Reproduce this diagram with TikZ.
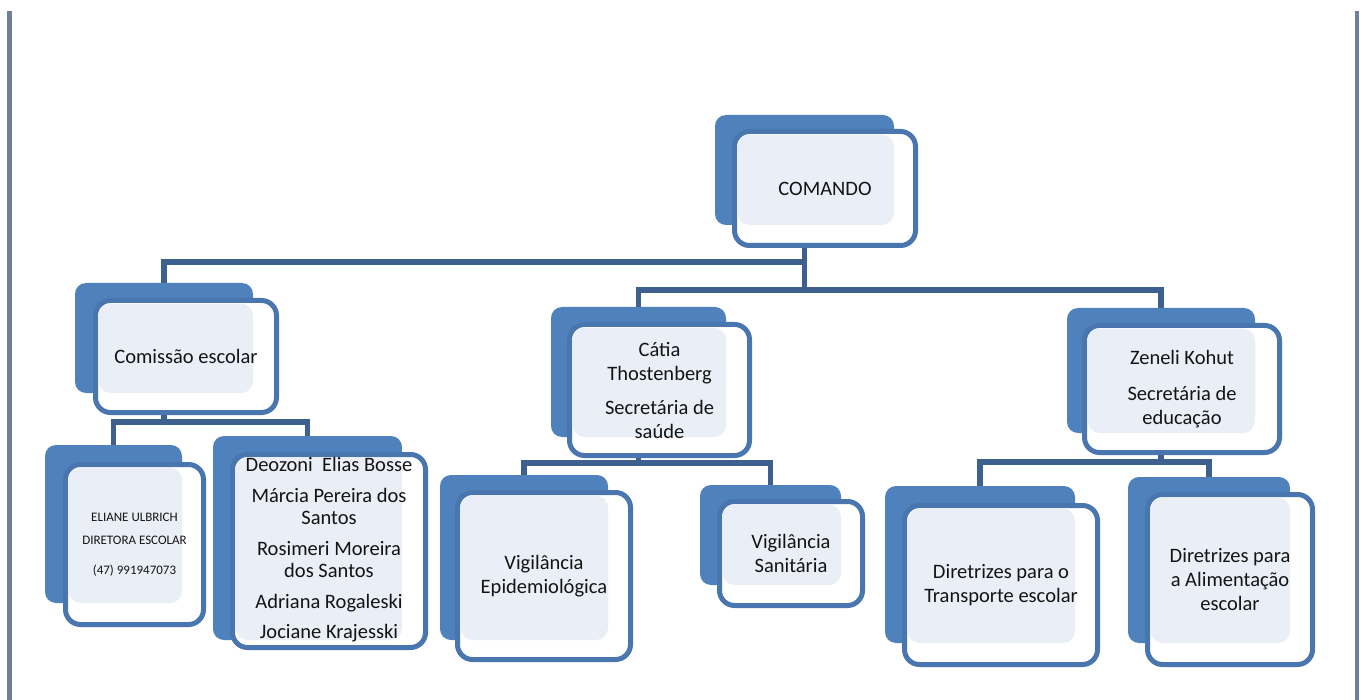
\documentclass[tikz,border=0pt]{standalone}
\usepackage{fontspec}
\setmainfont{Carlito}
\usetikzlibrary{fit}
\definecolor{backblue}{HTML}{4F81BD}
\definecolor{edgeblue}{HTML}{4A76B0}
\definecolor{lightfill}{HTML}{EAEFF7}
\definecolor{connblue}{HTML}{3D608F}
\definecolor{sidebar}{HTML}{6F7F99}
\definecolor{txt}{HTML}{141414}
\pgfdeclarelayer{bg}
\pgfdeclarelayer{paper}
\pgfsetlayers{paper,bg,main}
\begin{document}
\begin{tikzpicture}[x=1pt,y=-1pt,
  backbox/.style={fill=backblue,draw=none,rounded corners=11pt,inner sep=0pt,outer sep=0pt},
  frontbox/.style={fill=white,draw=edgeblue,line width=5pt,rounded corners=15pt,inner sep=-2.5pt,outer sep=0pt},
  shade/.style={fill=lightfill,rounded corners=12pt},
  lbl/.style={align=center,text=txt,font=\fontsize{20.5}{24}\selectfont,inner sep=0pt},
  small/.style={align=center,text=txt,font=\fontsize{13}{23}\selectfont,inner sep=0pt},
  conn/.style={draw=connblue,line width=5.5pt}]
\useasboundingbox (0,0) rectangle (1362,700);
\begin{pgfonlayer}{paper}
\fill[white] (0,0) rectangle (1362,700);
\fill[sidebar] (7,11) rectangle (12,700);
\fill[sidebar] (1355,11) rectangle (1359,700);
\end{pgfonlayer}

% COMANDO
\node[backbox,fit={(715,115) (894,225)}] (cmdB) {};
\node[frontbox,fit={(732,129) (918,248)}] (cmdF) {};
\fill[shade] ([shift={(3.2,3.2)}]cmdF.north west) rectangle (cmdB.south east);
\node[lbl] (cmd) at (cmdF.center) {COMANDO};

% Comissao escolar
\node[backbox,fit={(75,283) (253,393)}] (comB) {};
\node[frontbox,fit={(93,298) (279,415)}] (comF) {};
\fill[shade] ([shift={(3.2,3.2)}]comF.north west) rectangle (comB.south east);
\node[lbl] (com) at (comF.center) {Comissão escolar};

% Eliane
\node[backbox,fit={(45,445) (182,603)}] (eliB) {};
\node[frontbox,fit={(63,462) (206,627)}] (eliF) {};
\fill[shade] ([shift={(3.2,3.2)}]eliF.north west) rectangle (eliB.south east);
\node[small] (eli) at (eliF.center) {ELIANE ULBRICH\\DIRETORA ESCOLAR\\[7pt](47) 991947073};

% Deozoni
\node[backbox,fit={(213,436) (402,640)}] (deoB) {};
\node[frontbox,fit={(230,452) (428,650)}] (deoF) {};
\fill[shade] ([shift={(3.2,3.2)}]deoF.north west) rectangle (deoB.south east);
\node[lbl,font=\fontsize{20.5}{22.5}\selectfont] (deo) at ([yshift=1]deoF.center) {Deozoni~ Elias Bosse\\[8pt]Márcia Pereira dos\\Santos\\[8pt]Rosimeri Moreira\\dos Santos\\[8pt]Adriana Rogaleski\\[8pt]Jociane Krajesski};

% Catia
\node[backbox,fit={(551,307) (726,437)}] (catB) {};
\node[frontbox,fit={(567,322) (752,458)}] (catF) {};
\fill[shade] ([shift={(3.2,3.2)}]catF.north west) rectangle (catB.south east);
\node[lbl] (cat) at (catF.center) {Cátia\\Thostenberg\\[10pt]Secretária de\\saúde};

% Vigilancia Epidemiologica
\node[backbox,fit={(440,475) (608,640)}] (epiB) {};
\node[frontbox,fit={(455,490) (633,662)}] (epiF) {};
\fill[shade] ([shift={(3.2,3.2)}]epiF.north west) rectangle (epiB.south east);
\node[lbl] (epi) at (epiF.center) {Vigilância\\Epidemiológica};

% Vigilancia Sanitaria
\node[backbox,fit={(700,485) (841,585)}] (sanB) {};
\node[frontbox,fit={(717,499) (865,608)}] (sanF) {};
\fill[shade] ([shift={(3.2,3.2)}]sanF.north west) rectangle (sanB.south east);
\node[lbl] (san) at (sanF.center) {Vigilância\\Sanitária};

% Zeneli
\node[backbox,fit={(1067,308) (1255,433)}] (zenB) {};
\node[frontbox,fit={(1082,323) (1282,455)}] (zenF) {};
\fill[shade] ([shift={(3.2,3.2)}]zenF.north west) rectangle (zenB.south east);
\node[lbl] (zen) at (zenF.center) {Zeneli Kohut\\[12pt]Secretária de\\educação};

% Transporte
\node[backbox,fit={(885,486) (1075,643)}] (traB) {};
\node[frontbox,fit={(902,503) (1100,667)}] (traF) {};
\fill[shade] ([shift={(3.2,3.2)}]traF.north west) rectangle (traB.south east);
\node[lbl] (tra) at (traF.center) {Diretrizes para o\\Transporte escolar};

% Alimentacao
\node[backbox,fit={(1128,477) (1290,643)}] (aliB) {};
\node[frontbox,fit={(1145,492) (1315,667)}] (aliF) {};
\fill[shade] ([shift={(3.2,3.2)}]aliF.north west) rectangle (aliB.south east);
\node[lbl] (ali) at (aliF.center) {Diretrizes para\\a Alimentação\\escolar};

% connectors
\begin{pgfonlayer}{bg}
\coordinate (lvA) at (0,262);
\coordinate (lvB) at (0,290);
\coordinate (lvC) at (0,422);
\coordinate (lvD) at (0,463);
\coordinate (lvE) at (0,462);
\draw[conn] (cmdB.south) -- (cmdB.south |- lvB);
\draw[conn] (cmdB.south |- lvA) -| (comB.north);
\draw[conn] (catB.north) |- (zenB.north |- lvB) -- (zenB.north);
\draw[conn] (comB.south) -- (comB.south |- lvC);
\draw[conn] (eliB.north) |- (deoB.north |- lvC) -- (deoB.north);
\draw[conn] (catB.south) -- (catB.south |- lvD);
\draw[conn] (epiB.north) |- (sanB.north |- lvD) -- (sanB.north);
\draw[conn] (zenB.south) -- (zenB.south |- lvE);
\draw[conn] (traB.north) |- (aliB.north |- lvE) -- (aliB.north);
\end{pgfonlayer}
\end{tikzpicture}
\end{document}
